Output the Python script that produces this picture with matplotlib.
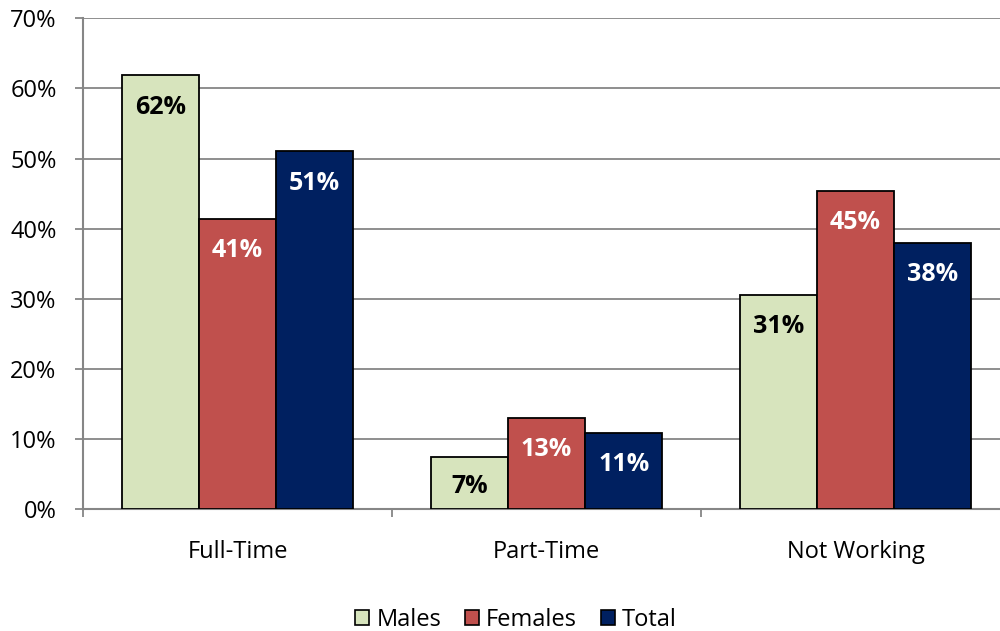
import matplotlib
matplotlib.use("Agg")
import matplotlib.pyplot as plt
from matplotlib.patches import Patch
import numpy as np

categories = ["Full-Time", "Part-Time", "Not Working"]
series_names = ["Males", "Females", "Total"]
males = [61.9, 7.4, 30.6]
females = [41.4, 13.0, 45.4]
total = [51.0, 10.9, 38.0]
y_ticks = [0, 10, 20, 30, 40, 50, 60, 70]

colors = ["#D7E4BD", "#C0504D", "#002060"]
label_colors = ["black", "white", "white"]

plt.rcParams["font.family"] = ["Open Sans", "DejaVu Sans"]

fig = plt.figure(figsize=(10, 6.31), dpi=100)
ax = fig.add_axes([0.083, 0.1933, 0.927, 0.7777])

x = np.arange(len(categories))
width = 0.25
grid_color = "#868686"

px_per_unit = (509 - 18.3) / 70.0
for i, (name, vals) in enumerate(zip(series_names, [males, females, total])):
    bars = ax.bar(x + (i - 1) * width, vals, width, color=colors[i],
                  edgecolor="black", linewidth=1.3, label=name, zorder=3)
    for b, v in zip(bars, vals):
        h_px = v * px_per_unit
        off = min(32, h_px / 2 + 3)
        ax.annotate(f"{v:.0f}%", (b.get_x() + b.get_width() / 2, v),
                    xytext=(0, -off * 0.72), textcoords="offset points",
                    ha="center", va="center", fontsize=18, fontweight="bold",
                    color=label_colors[i], zorder=4)

ax.set_xlim(-0.5, 2.5)
ax.set_ylim(0, 70)
ax.set_yticks(y_ticks)
ax.set_yticklabels([f"{t}%" for t in y_ticks])
ax.yaxis.grid(True, color=grid_color, linewidth=1.3, zorder=0)
ax.set_axisbelow(True)

ax.set_xticks(x)
ax.set_xticklabels(categories)
ax.set_xticks([-0.5, 0.5, 1.5, 2.5], minor=True)
ax.tick_params(axis="x", which="major", length=0, pad=22, labelsize=17)
ax.tick_params(axis="x", which="minor", length=6, width=1.3, color=grid_color)
ax.tick_params(axis="y", length=6, width=1.3, color=grid_color, pad=13, labelsize=17)

for s in ["top", "right"]:
    ax.spines[s].set_visible(False)
for s in ["left", "bottom"]:
    ax.spines[s].set_color(grid_color)
    ax.spines[s].set_linewidth(1.5)

handles = [Patch(facecolor=c, edgecolor="black", linewidth=1.2) for c in colors]
fig.legend(handles, series_names, loc="center", bbox_to_anchor=(0.516, 0.018),
           ncol=3, frameon=False, fontsize=17, handlelength=0.6, handleheight=0.6,
           handletextpad=0.3, columnspacing=1.0)

fig.savefig("out.png", dpi=100)
